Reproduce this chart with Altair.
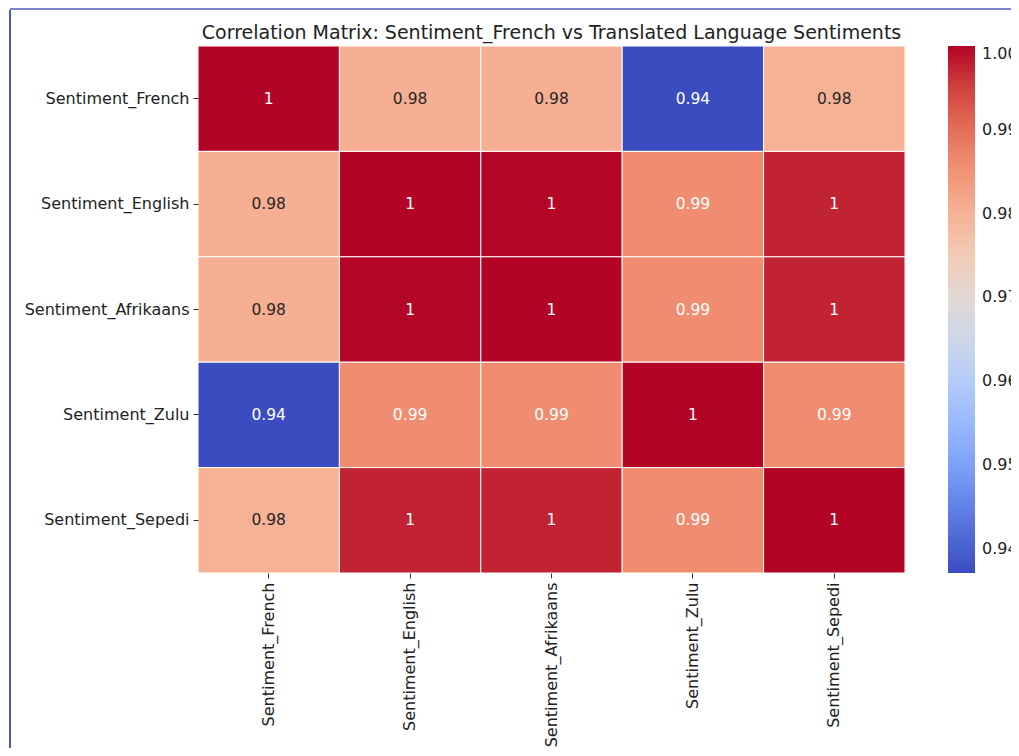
import altair as alt
import pandas as pd

langs = ["Sentiment_French", "Sentiment_English", "Sentiment_Afrikaans",
         "Sentiment_Zulu", "Sentiment_Sepedi"]

row_french = [1.0, 0.9805, 0.9805, 0.9371, 0.9800]
row_english = [0.9805, 1.0, 0.9999, 0.9860, 0.9975]
row_afrikaans = [0.9805, 0.9999, 1.0, 0.9860, 0.9975]
row_zulu = [0.9371, 0.9860, 0.9860, 1.0, 0.9860]
row_sepedi = [0.9800, 0.9975, 0.9975, 0.9860, 1.0]

colorbar_ticks = [0.94, 0.95, 0.96, 0.97, 0.98, 0.99, 1.00]

coolwarm = ["#3b4cc0", "#5977e3", "#7b9ff9", "#9ebeff", "#c0d4f5", "#dddcdc",
            "#f2cbb7", "#f7ac8e", "#ee8468", "#d65244", "#b40426"]

rows = [row_french, row_english, row_afrikaans, row_zulu, row_sepedi]
records = []
for yi, r in enumerate(rows):
    for xi, v in enumerate(r):
        records.append({"row": langs[yi], "col": langs[xi], "value": v})
df = pd.DataFrame(records)

vmin = min(min(r) for r in rows)
vmax = max(max(r) for r in rows)
n = len(coolwarm)
dom = [vmin + (vmax - vmin) * i / (n - 1) for i in range(n)]

FONT = "DejaVu Sans"
LBL = 16

base = alt.Chart(df)

x_enc = alt.X("col:N", sort=langs, title=None,
              axis=alt.Axis(labelAngle=-90, labelFontSize=LBL, labelFont=FONT,
                            labelColor="#222222", domain=False, ticks=True,
                            tickSize=5, tickColor="#333333", labelPadding=4))
y_enc = alt.Y("row:N", sort=langs, title=None,
              axis=alt.Axis(labelFontSize=LBL, labelFont=FONT, labelColor="#222222",
                            domain=False, ticks=True, tickSize=5,
                            tickColor="#333333", labelPadding=4))

rect = base.mark_rect(stroke="white", strokeWidth=1).encode(
    x=x_enc,
    y=y_enc,
    color=alt.Color("value:Q",
                    scale=alt.Scale(domain=dom, range=coolwarm, interpolate="rgb"),
                    legend=alt.Legend(title=None, orient="none", legendX=750, legendY=0,
                                      direction="vertical", gradientLength=527,
                                      gradientThickness=27, values=colorbar_ticks,
                                      format=".2f", labelFontSize=LBL, labelFont=FONT,
                                      labelColor="#222222", labelOffset=7,
                                      labelBaseline="middle",
                                      gradientStrokeWidth=0)),
)

text = base.mark_text(fontSize=15.5, font=FONT).encode(
    x=alt.X("col:N", sort=langs),
    y=alt.Y("row:N", sort=langs),
    text=alt.Text("value:Q", format=".2~g"),
    color=alt.condition("datum.value > 0.985 || datum.value < 0.95",
                        alt.value("#ffffff"), alt.value("#262626")),
)

one = pd.DataFrame({"k": [0]})
border_left = alt.Chart(one).mark_rule(color="#4a5ab8", strokeWidth=2).encode(
    x=alt.value(-188), y=alt.value(-36), y2=alt.value(712))
border_top = alt.Chart(one).mark_rule(color="#4a5ab8", strokeWidth=1.5).encode(
    x=alt.value(-188), x2=alt.value(830), y=alt.value(-37))
border_stub = alt.Chart(one).mark_rule(color="#7f8fd0", strokeWidth=1).encode(
    x=alt.value(-200), x2=alt.value(-120), y=alt.value(-43.5))

chart = alt.layer(rect, text, border_left, border_top, border_stub).properties(
    width=707, height=527,
    title=alt.TitleParams("Correlation Matrix: Sentiment_French vs Translated Language Sentiments",
                          fontSize=19, font=FONT, fontWeight="normal",
                          color="#222222", anchor="middle", offset=7, dy=47.5),
    autosize=alt.AutoSizeParams(type="none"),
    padding={"left": 190, "top": 38, "right": 106, "bottom": 175},
).configure_view(stroke=None)

chart.save("out.html", embed_options={"renderer": "svg", "actions": False})
